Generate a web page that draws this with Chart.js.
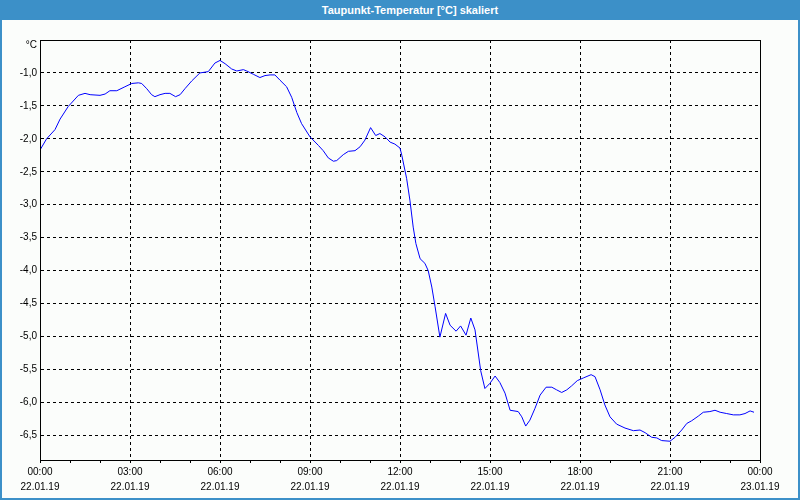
<!DOCTYPE html>
<html>
<head>
<meta charset="utf-8">
<script src="https://cdn.jsdelivr.net/npm/chart.js@4"></script>
<style>
    html, body { margin: 0; padding: 0; }
    body { width: 800px; height: 500px; position: relative; background: #fbfdfb; overflow: hidden; }
    #titleBar {
        position: absolute; left: 0; top: 0; width: 800px; height: 20px;
        background: #3c90c8; color: #fff;
        font: bold 11px "Liberation Sans", Arial, sans-serif;
        line-height: 20px; text-align: center; padding-left: 20px; box-sizing: border-box;
        z-index: 2;
    }
    #frame {
        position: absolute; left: 0; top: 0; width: 800px; height: 500px; box-sizing: border-box;
        border-left: 2px solid #3c90c8; border-right: 2px solid #3c90c8; border-bottom: 2px solid #3c90c8;
        pointer-events: none; z-index: 1;
    }
    #chartBox { position: absolute; left: 0; top: 0; width: 800px; height: 500px; }
</style>
</head>
<body>
<div id="titleBar">Taupunkt-Temperatur [°C] skaliert</div>
<div id="frame"></div>
<div id="chartBox"><canvas id="dewChart" width="800" height="500"></canvas></div>
<script>
// Zeit in Stunden ab 22.01.19 00:00
const hours = [
    0.00, 0.22, 0.50, 0.67, 0.94, 1.28, 1.50, 1.67, 2.00, 2.17, 2.33, 2.56, 2.83,
    3.06, 3.28, 3.39, 3.56, 3.72, 3.83, 4.00, 4.17, 4.33, 4.52, 4.67, 4.83, 5.06,
    5.33, 5.61, 5.83, 6.00, 6.17, 6.39, 6.56, 6.78, 6.89, 7.11, 7.33, 7.50, 7.67,
    7.83, 8.00, 8.22, 8.39, 8.56, 8.72, 9.00, 9.28, 9.44, 9.61, 9.78, 9.89, 10.11,
    10.28, 10.50, 10.67, 10.83, 11.02, 11.19, 11.33, 11.50, 11.67, 11.83, 12.00,
    12.06, 12.22, 12.33, 12.44, 12.53, 12.67, 12.83, 12.94, 13.06, 13.17, 13.33,
    13.52, 13.67, 13.87, 14.02, 14.20, 14.36, 14.50, 14.69, 14.83, 15.00, 15.17,
    15.33, 15.50, 15.67, 15.94, 16.06, 16.19, 16.33, 16.50, 16.67, 16.87, 17.06,
    17.22, 17.39, 17.56, 17.72, 17.91, 18.11, 18.37, 18.50, 18.67, 18.83, 19.00,
    19.22, 19.50, 19.78, 20.00, 20.17, 20.39, 20.56, 20.72, 21.00, 21.17, 21.39,
    21.56, 21.72, 21.94, 22.11, 22.33, 22.50, 22.67, 22.89, 23.11, 23.33, 23.50,
    23.67, 23.80
];

// Taupunkt in °C
const dewPoint = [
    -2.17, -2.00, -1.86, -1.70, -1.51, -1.34, -1.31, -1.33, -1.34, -1.32, -1.27, -1.27, -1.21,
    -1.16, -1.15, -1.16, -1.24, -1.33, -1.36, -1.33, -1.31, -1.31, -1.36, -1.33, -1.24, -1.12,
    -1.00, -0.98, -0.85, -0.81, -0.86, -0.94, -0.97, -0.95, -0.97, -1.02, -1.07, -1.04, -1.03,
    -1.03, -1.11, -1.21, -1.37, -1.60, -1.77, -1.97, -2.10, -2.18, -2.29, -2.34, -2.33, -2.24,
    -2.19, -2.18, -2.12, -2.02, -1.83, -1.95, -1.92, -1.97, -2.05, -2.08, -2.14,
    -2.25, -2.60, -2.93, -3.34, -3.59, -3.82, -3.89, -4.00, -4.25, -4.55, -5.01,
    -4.65, -4.83, -4.92, -4.84, -4.98, -4.72, -4.90, -5.52, -5.79, -5.71, -5.60,
    -5.70, -5.86, -6.12, -6.14, -6.22, -6.36, -6.27, -6.09, -5.89, -5.77, -5.77,
    -5.81, -5.85, -5.81, -5.75, -5.67, -5.63, -5.58, -5.61, -5.81, -6.04, -6.22,
    -6.33, -6.39, -6.43, -6.42, -6.46, -6.53, -6.54, -6.58, -6.59, -6.53, -6.42,
    -6.32, -6.28, -6.21, -6.15, -6.14, -6.12, -6.15, -6.17, -6.19, -6.19, -6.17,
    -6.13, -6.15
];

// Achsenbeschriftung
const timeLabels = ['00:00', '03:00', '06:00', '09:00', '12:00', '15:00', '18:00', '21:00', '00:00'];
const dateLabels = ['22.01.19', '22.01.19', '22.01.19', '22.01.19', '22.01.19', '22.01.19', '22.01.19', '22.01.19', '23.01.19'];
const yMin = -6.875;
const yMax = -0.5;

const points = hours.map((h, i) => ({ x: h, y: dewPoint[i] }));

// Rahmen oben/rechts um die Zeichenfläche
const frameRect = {
    id: 'frameRect',
    afterDraw(chart) {
        const { ctx, chartArea: a } = chart;
        ctx.save();
        ctx.strokeStyle = '#000';
        ctx.lineWidth = 1;
        ctx.strokeRect(Math.floor(a.left) + 0.5, Math.floor(a.top) + 0.5, Math.round(a.right - a.left), Math.round(a.bottom - a.top));
        ctx.restore();
    }
};

const tickFont = { family: '"Liberation Sans", Arial, sans-serif', size: 10 };

new Chart(document.getElementById('dewChart').getContext('2d'), {
    type: 'line',
    data: {
        datasets: [{
            data: points,
            borderColor: '#0000ff',
            borderWidth: 1,
            pointRadius: 0,
            tension: 0,
            fill: false
        }]
    },
    options: {
        responsive: false,
        animation: false,
        devicePixelRatio: 1,
        layout: { padding: { left: 0, top: 40, right: 40, bottom: 0 } },
        plugins: {
            legend: { display: false },
            tooltip: { enabled: false }
        },
        scales: {
            x: {
                type: 'linear',
                min: 0,
                max: 24,
                afterFit: (scale) => { scale.height = 40; },
                grid: {
                    color: (c) => (c.tick && c.tick.value % 3 === 0 && c.tick.value > 0 && c.tick.value < 24) ? '#000' : 'rgba(0,0,0,0)',
                    tickColor: '#000',
                    tickLength: 3,
                    lineWidth: 1
                },
                border: { display: true, color: '#000', width: 1, dash: [3, 3] },
                ticks: {
                    stepSize: 1,
                    autoSkip: false,
                    maxRotation: 0,
                    padding: 2,
                    color: '#000',
                    font: { ...tickFont, lineHeight: '15px' },
                    callback: (v) => {
                        if (v % 3 !== 0) return '';
                        const i = v / 3;
                        return [timeLabels[i], dateLabels[i]];
                    }
                }
            },
            y: {
                min: yMin,
                max: yMax,
                afterFit: (scale) => { scale.width = 40; },
                grid: {
                    color: (c) => (c.tick && c.tick.value > yMin + 0.01 && c.tick.value < yMax - 0.01) ? '#000' : 'rgba(0,0,0,0)',
                    drawTicks: false,
                    lineWidth: 1
                },
                border: { display: true, color: '#000', width: 1, dash: [3, 3] },
                ticks: {
                    stepSize: 0.5,
                    includeBounds: false,
                    padding: 3,
                    color: '#000',
                    font: { ...tickFont, lineHeight: '10px' },
                    callback: (v) => {
                        if (Math.abs(v - yMax) < 0.001) return ['', '°C'];
                        return v.toFixed(1).replace('.', ',');
                    }
                }
            }
        }
    },
    plugins: [frameRect]
});
</script>
</body>
</html>
